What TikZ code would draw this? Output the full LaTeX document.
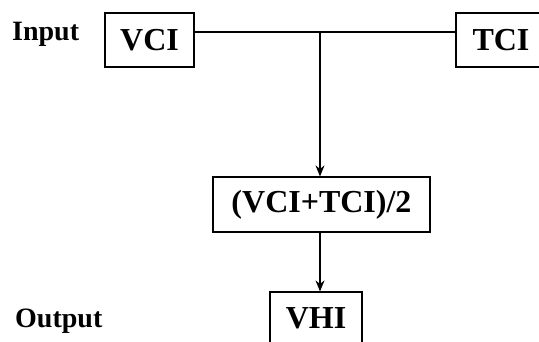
\documentclass[tikz,border=0pt]{standalone}
\usepackage{fontspec}
\setmainfont{Liberation Serif}
\usetikzlibrary{arrows.meta}
\begin{document}
\begin{tikzpicture}[x=1pt,y=-1pt,
  box/.style={draw, line width=1.2pt, inner sep=0pt, font=\fontsize{32}{32}\selectfont\bfseries},
  lbl/.style={inner sep=0pt, anchor=base west, font=\fontsize{28}{28}\selectfont\bfseries},
  conn/.style={line width=1.2pt},
  arr/.style={conn, -{Stealth[length=11pt,width=9pt]}}]
\useasboundingbox (0,0) rectangle (539,342);
\clip (0,0) rectangle (539,342);
\node[lbl] (in) at (12,41) {Input};
\node[lbl] (out) at (15,327) {Output};
\node[box, minimum width=89pt, minimum height=54pt] (vci) at (149.5,40) {VCI};
\node[box, minimum width=90pt, minimum height=54pt] (tci) at (501,40) {TCI};
\node[box, minimum width=217pt, minimum height=55pt] (mid) at (321.5,204.5) {(VCI+TCI)/2};
\node[box, minimum width=92pt, minimum height=52pt] (vhi) at (316,318) {VHI};
\coordinate (j) at (320,32);
\draw[conn] (vci.east |- j) -- (tci.west |- j);
\draw[arr] (j) -- (j |- mid.north);
\draw[arr] (j |- mid.south) -- (j |- vhi.north);
\end{tikzpicture}
\end{document}
